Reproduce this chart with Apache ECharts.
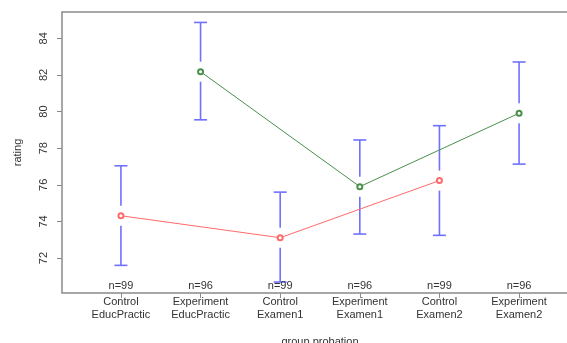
<!DOCTYPE html>
<html>
<head>
<meta charset="utf-8">
<script src="https://cdn.jsdelivr.net/npm/echarts@6/dist/echarts.min.js"></script>
<style>
html,body{margin:0;padding:0;background:#fff;}
#chart{width:567px;height:343px;}
</style>
</head>
<body>
<div id="chart"></div>
<script>
// ---- data ----
var categories = ['Control\nEducPractic', 'Experiment\nEducPractic', 'Control\nExamen1', 'Experiment\nExamen1', 'Control\nExamen2', 'Experiment\nExamen2'];
var nLabels = ['n=99', 'n=96', 'n=99', 'n=96', 'n=99', 'n=96'];
var means = [74.31, 82.18, 73.11, 75.90, 76.23, 79.91];
var upper = [77.04, 84.87, 75.60, 78.45, 79.23, 82.71];
var lower = [71.60, 79.55, 70.69, 73.31, 73.24, 77.13];
var controlIdx = [0, 2, 4];
var experimentIdx = [1, 3, 5];
var yTicks = [72, 74, 76, 78, 80, 82, 84];

var X_MIN = 0.26, X_MAX = 6.74, Y_MIN = 70.09, Y_MAX = 85.44;
var FONT = 'Liberation Sans, Arial, sans-serif';
var TXT = '#333333';
var FRAME = '#8a8a8a';

var xs = categories.map(function (c, i) { return i + 1; });
var barData = xs.map(function (x, i) { return [x, means[i], upper[i], lower[i]]; });
var nData = xs.map(function (x, i) { return [x, Y_MIN, nLabels[i]]; });

var chart = echarts.init(document.getElementById('chart'), null, {renderer: 'canvas'});
chart.setOption({
  animation: false,
  backgroundColor: '#fff',
  grid: {left: 62, top: 12, right: -11, bottom: 50, outerBoundsMode: 'none', containLabel: false,
         show: true, borderColor: FRAME, borderWidth: 1.5, backgroundColor: 'transparent'},
  xAxis: {
    type: 'value', min: X_MIN, max: X_MAX,
    name: 'group probation', nameLocation: 'middle', nameGap: 43,
    nameTextStyle: {fontFamily: FONT, fontSize: 11, color: TXT},
    axisLine: {show: false},
    splitLine: {show: false},
    axisTick: {show: true, length: 5, customValues: xs, lineStyle: {color: FRAME, width: 1}},
    axisLabel: {
      customValues: xs, margin: 2, fontFamily: FONT, fontSize: 11, color: TXT, lineHeight: 13,
      formatter: function (v) { return categories[Math.round(v) - 1] || ''; }
    }
  },
  yAxis: {
    type: 'value', min: Y_MIN, max: Y_MAX,
    name: 'rating', nameLocation: 'middle', nameGap: 39,
    nameTextStyle: {fontFamily: FONT, fontSize: 11, color: TXT},
    axisLine: {show: false},
    splitLine: {show: false},
    axisTick: {show: true, length: 5, customValues: yTicks, lineStyle: {color: FRAME, width: 1}},
    axisLabel: {customValues: yTicks, rotate: 90, margin: 13, fontFamily: FONT, fontSize: 11, color: TXT}
  },
  series: [
    {
      type: 'custom', name: 'ci', z: 2,
      data: barData,
      renderItem: function (params, api) {
        var x = api.value(0);
        var pm = api.coord([x, api.value(1)]);
        var pu = api.coord([x, api.value(2)]);
        var pl = api.coord([x, api.value(3)]);
        var gap = 10, cap = 6.5;
        var st = {stroke: '#7070ff', lineWidth: 1.6};
        return {
          type: 'group',
          children: [
            {type: 'line', shape: {x1: pm[0], y1: pu[1], x2: pm[0], y2: pm[1] - gap}, style: st},
            {type: 'line', shape: {x1: pm[0], y1: pm[1] + gap, x2: pm[0], y2: pl[1]}, style: st},
            {type: 'line', shape: {x1: pm[0] - cap, y1: pu[1], x2: pm[0] + cap, y2: pu[1]}, style: st},
            {type: 'line', shape: {x1: pm[0] - cap, y1: pl[1], x2: pm[0] + cap, y2: pl[1]}, style: st}
          ]
        };
      }
    },
    {
      type: 'line', name: 'Control', z: 3,
      data: controlIdx.map(function (i) { return [xs[i], means[i]]; }),
      symbol: 'emptyCircle', symbolSize: 5,
      itemStyle: {color: '#ff6a6a', borderWidth: 0.7},
      lineStyle: {color: '#ff6a6a', width: 1}
    },
    {
      type: 'line', name: 'Experiment', z: 3,
      data: experimentIdx.map(function (i) { return [xs[i], means[i]]; }),
      symbol: 'emptyCircle', symbolSize: 5,
      itemStyle: {color: '#4a904a', borderWidth: 0.7},
      lineStyle: {color: '#4a904a', width: 1}
    },
    {
      type: 'custom', name: 'n', z: 4,
      data: nData,
      renderItem: function (params, api) {
        var p = api.coord([api.value(0), api.value(1)]);
        return {
          type: 'text',
          style: {x: p[0], y: p[1] - 7, text: nLabels[params.dataIndex], align: 'center', verticalAlign: 'middle',
                  font: '11px ' + FONT, fill: TXT}
        };
      }
    }
  ]
});
</script>
</body>
</html>
